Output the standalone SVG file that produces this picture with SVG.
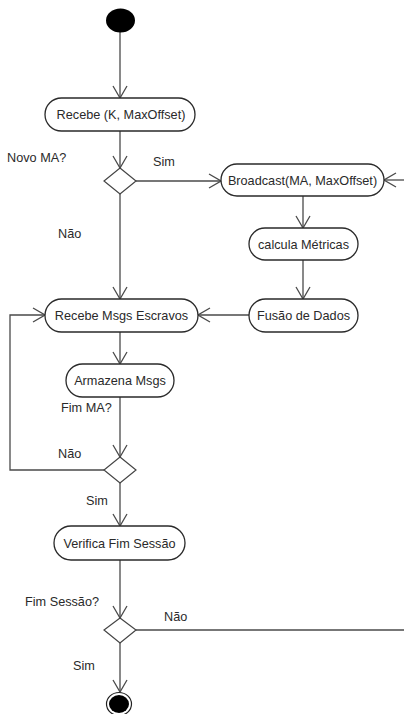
<svg xmlns="http://www.w3.org/2000/svg" width="404" height="714" viewBox="0 0 404 714">
  <style>
    .node rect { fill: #ffffff; stroke: #2a2a2a; stroke-width: 1.3; }
    .node text, .label { font-family: "Liberation Sans", Arial, sans-serif; font-size: 12.7px; fill: #2a2a2a; }
    .node text { text-anchor: middle; }
    .decision polygon { fill: #ffffff; stroke: #444444; stroke-width: 1.2; }
    .edge { fill: none; stroke: #4a4a4a; stroke-width: 1.3; }
  </style>
  <defs>
    <marker id="open-arrow" viewBox="0 0 14 16" refX="13" refY="8" markerWidth="14" markerHeight="16" markerUnits="userSpaceOnUse" orient="auto">
      <path d="M1,1 L13,8 L1,15" fill="none" stroke="#4a4a4a" stroke-width="1.3"/>
    </marker>
  </defs>
  <rect width="404" height="714" fill="#ffffff"/>

  <!-- connectors -->
  <g id="connectors">
    <path class="edge" d="M120,32 L120,98" marker-end="url(#open-arrow)"/>
    <path class="edge" d="M120,131 L120,168" marker-end="url(#open-arrow)"/>
    <path class="edge" d="M136,181 L221,181" marker-end="url(#open-arrow)"/>
    <path class="edge" d="M404,180 L384,180" marker-end="url(#open-arrow)"/>
    <path class="edge" d="M303,196 L303,228" marker-end="url(#open-arrow)"/>
    <path class="edge" d="M303,260 L303,299" marker-end="url(#open-arrow)"/>
    <path class="edge" d="M249,315 L198,315" marker-end="url(#open-arrow)"/>
    <path class="edge" d="M120,194 L120,299" marker-end="url(#open-arrow)"/>
    <path class="edge" d="M120,332 L120,364" marker-end="url(#open-arrow)"/>
    <path class="edge" d="M120,397 L120,457" marker-end="url(#open-arrow)"/>
    <path class="edge" d="M104,470 L10,470 L10,315 L45,315" marker-end="url(#open-arrow)"/>
    <path class="edge" d="M120,483 L120,526" marker-end="url(#open-arrow)"/>
    <path class="edge" d="M120,560 L120,618" marker-end="url(#open-arrow)"/>
    <path class="edge" d="M136,630 L404,630"/>
    <path class="edge" d="M120,643 L120,692" marker-end="url(#open-arrow)"/>
  </g>

  <!-- guard labels -->
  <g id="labels">
    <text class="label" x="7" y="162">Novo MA?</text>
    <text class="label" x="153" y="166">Sim</text>
    <text class="label" x="58" y="238">Não</text>
    <text class="label" x="61" y="412">Fim MA?</text>
    <text class="label" x="58" y="458">Não</text>
    <text class="label" x="86" y="505">Sim</text>
    <text class="label" x="25" y="606">Fim Sessão?</text>
    <text class="label" x="164" y="621">Não</text>
    <text class="label" x="73" y="670">Sim</text>
  </g>

  <!-- initial state -->
  <g id="start">
    <ellipse cx="120.5" cy="20.5" rx="14.5" ry="12" fill="#000000"/>
  </g>

  <g id="recebe-k" class="node">
    <rect x="45" y="98" width="150" height="33" rx="16.5"/>
    <text x="121" y="119">Recebe (K, MaxOffset)</text>
  </g>

  <g id="novo-ma" class="decision">
    <polygon points="120,168 136,181 120,194 104,181"/>
  </g>

  <g id="broadcast" class="node">
    <rect x="221" y="164" width="163" height="32" rx="16"/>
    <text x="302.5" y="184.5">Broadcast(MA, MaxOffset)</text>
  </g>

  <g id="calcula" class="node">
    <rect x="249" y="228" width="109" height="32" rx="16"/>
    <text x="303.5" y="248.5">calcula Métricas</text>
  </g>

  <g id="fusao" class="node">
    <rect x="249" y="299" width="109" height="33" rx="16.5"/>
    <text x="303.5" y="319.5">Fusão de Dados</text>
  </g>

  <g id="recebe-msgs" class="node">
    <rect x="45" y="299" width="153" height="33" rx="16.5"/>
    <text x="121.5" y="319.5">Recebe Msgs Escravos</text>
  </g>

  <g id="armazena" class="node">
    <rect x="66" y="364" width="108" height="33" rx="16.5"/>
    <text x="120" y="384.5">Armazena Msgs</text>
  </g>

  <g id="fim-ma" class="decision">
    <polygon points="120,457 136,470 120,483 104,470"/>
  </g>

  <g id="verifica" class="node">
    <rect x="54" y="526" width="131" height="34" rx="17"/>
    <text x="119.5" y="547.5">Verifica Fim Sessão</text>
  </g>

  <g id="fim-sessao" class="decision">
    <polygon points="120,618 136,630 120,643 104,630"/>
  </g>

  <!-- final state -->
  <g id="end">
    <ellipse cx="119" cy="704" rx="12.5" ry="11.5" fill="#ffffff" stroke="#222222" stroke-width="1.2"/>
    <ellipse cx="119" cy="704" rx="10" ry="9" fill="#000000"/>
  </g>
</svg>
